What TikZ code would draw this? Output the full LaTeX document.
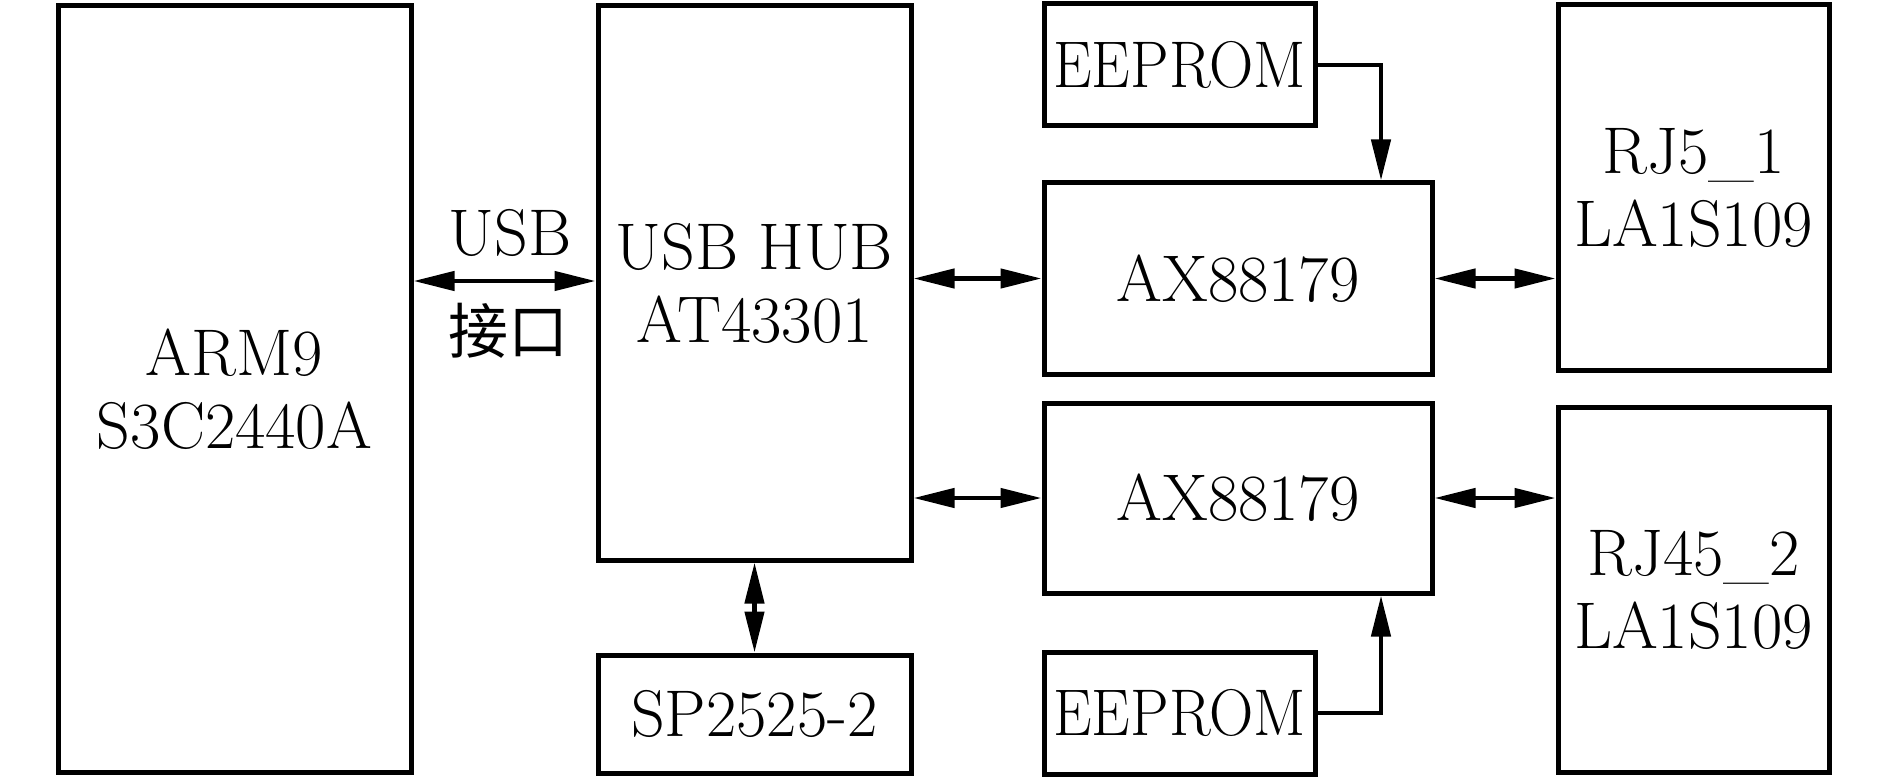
\documentclass[tikz,border=0pt]{standalone}
\usepackage{graphicx}
\usepackage{fontspec}
\newfontfamily\cjkfont{Noto Sans CJK SC}
\usetikzlibrary{arrows.meta,calc}
\begin{document}
\begin{tikzpicture}[x=1pt,y=-1pt,
  blk/.style={draw,line width=5pt,rectangle,inner sep=0pt,align=center,
    font=\fontsize{66pt}{73pt}\selectfont},
  tipA/.tip={Triangle[length=41pt,width=19pt]},
  biarrow/.style={line width=4.5pt,{tipA}-{tipA}},
  onearrow/.style={line width=4.5pt,-{tipA}},
  lbl/.style={inner sep=0pt,anchor=base,font=\fontsize{66pt}{73pt}\selectfont}]
\useasboundingbox (0,0) rectangle (1889,778);
% boxes
\node[blk,minimum width=353pt,minimum height=766pt] (arm) at (234.5,389) {ARM9\\S3C2440A};
\node[blk,minimum width=313pt,minimum height=554pt] (hub) at (754.5,283) {USB HUB\\AT43301};
\node[blk,minimum width=313pt,minimum height=118pt] (sp) at (754.5,714) {SP2525-2};
\node[blk,minimum width=271pt,minimum height=122pt] (ee1) at (1179.5,65) {\scalebox{0.93}[1]{EEPROM}};
\node[blk,minimum width=388pt,minimum height=191pt] (ax1) at (1238,278.5) {AX88179};
\node[blk,minimum width=388pt,minimum height=190pt] (ax2) at (1238,498) {AX88179};
\node[blk,minimum width=271pt,minimum height=122pt] (ee2) at (1179.5,713) {\scalebox{0.93}[1]{EEPROM}};
\node[blk,minimum width=271pt,minimum height=365pt] (rj1) at (1693.5,187.5) {RJ5\_1\\LA1S109};
\node[blk,minimum width=271pt,minimum height=365pt] (rj2) at (1693.5,589.5) {RJ45\_2\\LA1S109};
% USB link
\coordinate (u) at (0,281);
\draw[biarrow] (arm.east |- u) -- (hub.west |- u);
\node[lbl] (usb) at (510,255) {USB};
\node[inner sep=0pt,font=\cjkfont\fontsize{60pt}{60pt}\selectfont] (jk) at (508,331) {接口};
% hub to AX
\draw[biarrow] (hub.east |- ax1.west) -- (ax1.west);
\draw[biarrow] (hub.east |- ax2.west) -- (ax2.west);
% AX to RJ
\draw[biarrow] (ax1.east) -- (rj1.west |- ax1.east);
\draw[biarrow] (ax2.east) -- (rj2.west |- ax2.east);
% hub to SP
\draw[biarrow] (hub.south) -- (sp.north);
% EEPROMs
\draw[onearrow] (ee1.east) -| ([xshift=143pt]ax1.north);
\draw[onearrow] (ee2.east) -| ([xshift=143pt]ax2.south);
\end{tikzpicture}
\end{document}
